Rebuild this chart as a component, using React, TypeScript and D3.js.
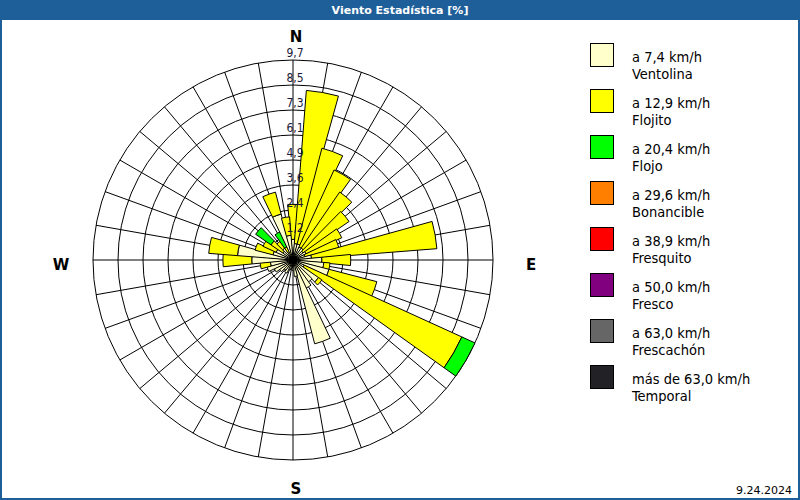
import React from "react";
import * as d3 from "d3";

const directions = [0, 10, 20, 30, 40, 50, 60, 70, 80, 90, 100, 110, 120, 130, 140, 150, 160, 170, 180, 190, 200, 210, 220, 230, 240, 250, 260, 270, 280, 290, 300, 310, 320, 330, 340, 350];
// Ventolina (a 7,4 km/h)
const ventolina = [1.0, 0.8, 0.8, 0.7, 0.7, 0.6, 0.7, 0.6, 0.9, 1.4, 1.5, 1.8, 0.6, 1.5, 1.3, 1.5, 4.2, 0.8, 0.5, 0.4, 0.5, 0.7, 0.6, 0.8, 1.0, 1.3, 1.1, 2.0, 2.7, 1.0, 0.9, 0.6, 0.7, 0.4, 2.3, 1.2];
// Flojito (a 12,9 km/h)
const flojito = [1.7, 7.45, 4.8, 4.1, 3.3, 2.7, 1.9, 1.7, 6.1, 1.4, 0.3, 2.4, 8.4, 0.2, 0, 0, 0, 0, 0, 0, 0, 0, 0, 0, 0, 0, 0.5, 1.4, 1.4, 0.9, 0.7, 0.7, 0.4, 0.3, 1.1, 0.9];
// Flojo (a 20,4 km/h)
const flojo = [0, 0, 0, 0, 0, 0, 0, 0, 0, 0, 0, 0, 0.7, 0, 0, 0, 0, 0, 0, 0, 0, 0, 0, 0, 0, 0, 0, 0, 0, 0, 0, 0.9, 0, 0.8, 0, 0];

const series = [ventolina, flojito, flojo];
const seriesColors = ["#ffffcc", "#ffff00", "#00ff00"];

const ringTicks = [1.2125, 2.425, 3.6375, 4.85, 6.0625, 7.275, 8.4875, 9.7];
const ringLabels = ["1,2", "2,4", "3,6", "4,9", "6,1", "7,3", "8,5", "9,7"];
const maxValue = 9.7;

const legendLine1 = ["a 7,4 km/h", "a 12,9 km/h", "a 20,4 km/h", "a 29,6 km/h", "a 38,9 km/h", "a 50,0 km/h", "a 63,0 km/h", "más de 63,0 km/h"];
const legendLine2 = ["Ventolina", "Flojito", "Flojo", "Bonancible", "Fresquito", "Fresco", "Frescachón", "Temporal"];
const legendColors = ["#ffffcc", "#ffff00", "#00ff00", "#ff8000", "#ff0000", "#800080", "#666666", "#222226"];

const title = "Viento Estadística [%]";
const dateText = "9.24.2024";

export default function App() {
  const W = 800, H = 500;
  const cx = 293, cy = 260, R = 200;
  const r = d3.scaleLinear().domain([0, maxValue]).range([0, R]);
  const rad = (deg: number) => (deg * Math.PI) / 180;
  const half = 5.5;
  const arc = d3.arc<any>();
  const spokes = d3.range(0, 360, 10);

  const segs: { path: string; fill: string }[] = [];
  directions.forEach((dir, i) => {
    let base = 0;
    series.forEach((s, k) => {
      const v = s[i];
      if (v > 0) {
        const p = arc({
          innerRadius: r(base),
          outerRadius: r(base + v),
          startAngle: rad(dir - half),
          endAngle: rad(dir + half),
        }) as string;
        segs.push({ path: p, fill: seriesColors[k] });
      }
      base += v;
    });
  });

  const font = "Tahoma, 'DejaVu Sans', Verdana, sans-serif";
  const legendFont = "'DejaVu Sans Condensed', 'DejaVu Sans', sans-serif";

  return (
    <div style={{ position: "absolute", left: 0, top: 0, width: W, height: H }}>
      <svg width={W} height={H} style={{ display: "block" }}>
        <rect x={0} y={0} width={W} height={H} fill="#ffffff" />
        <rect x={1} y={1} width={W - 2} height={H - 2} fill="none" stroke="#1f5f99" strokeWidth={2} />
        <rect x={0} y={0} width={W} height={20} fill="#1f5f99" />
        <text x={400} y={14} textAnchor="middle" fill="#ffffff" fontFamily={font} fontSize={11} fontWeight="bold">{title}</text>

        <g transform={`translate(${cx},${cy})`}>
          {ringTicks.map((t, i) => (
            <circle key={"c" + i} r={r(t)} fill="none" stroke="#000" strokeWidth={1} />
          ))}
          {spokes.map((a) => (
            <line key={"s" + a} x1={0} y1={0} x2={R * Math.sin(rad(a))} y2={-R * Math.cos(rad(a))} stroke="#000" strokeWidth={1} />
          ))}
          {segs.map((s, i) => (
            <path key={"b" + i} d={s.path} fill={s.fill} stroke="#000" strokeWidth={1} />
          ))}
          <circle r={4} fill="#000" />
          {ringTicks.map((t, i) => (
            <text key={"l" + i} x={2} y={-r(t) - 3} textAnchor="middle" fill="#1a1a3a" fontFamily={legendFont} fontSize={12}>{ringLabels[i]}</text>
          ))}
        </g>

        <text x={296} y={42} textAnchor="middle" fontFamily={font} fontSize={15} fontWeight="bold" fill="#000">N</text>
        <text x={296} y={494} textAnchor="middle" fontFamily={font} fontSize={15} fontWeight="bold" fill="#000">S</text>
        <text x={61} y={270} textAnchor="middle" fontFamily={font} fontSize={15} fontWeight="bold" fill="#000">W</text>
        <text x={531} y={270} textAnchor="middle" fontFamily={font} fontSize={15} fontWeight="bold" fill="#000">E</text>

        {legendLine1.map((l, i) => (
          <g key={"lg" + i} transform={`translate(590,${43 + i * 46})`}>
            <rect x={0.5} y={0.5} width={23} height={23} fill={legendColors[i]} stroke="#000" strokeWidth={1} />
            <text x={42} y={19} fontFamily={legendFont} fontSize={14.5} fill="#000">{l}</text>
            <text x={42} y={36} fontFamily={legendFont} fontSize={14.5} fill="#000">{legendLine2[i]}</text>
          </g>
        ))}

        <text x={792} y={494} textAnchor="end" fontFamily={font} fontSize={11} fill="#000">{dateText}</text>
      </svg>
    </div>
  );
}
